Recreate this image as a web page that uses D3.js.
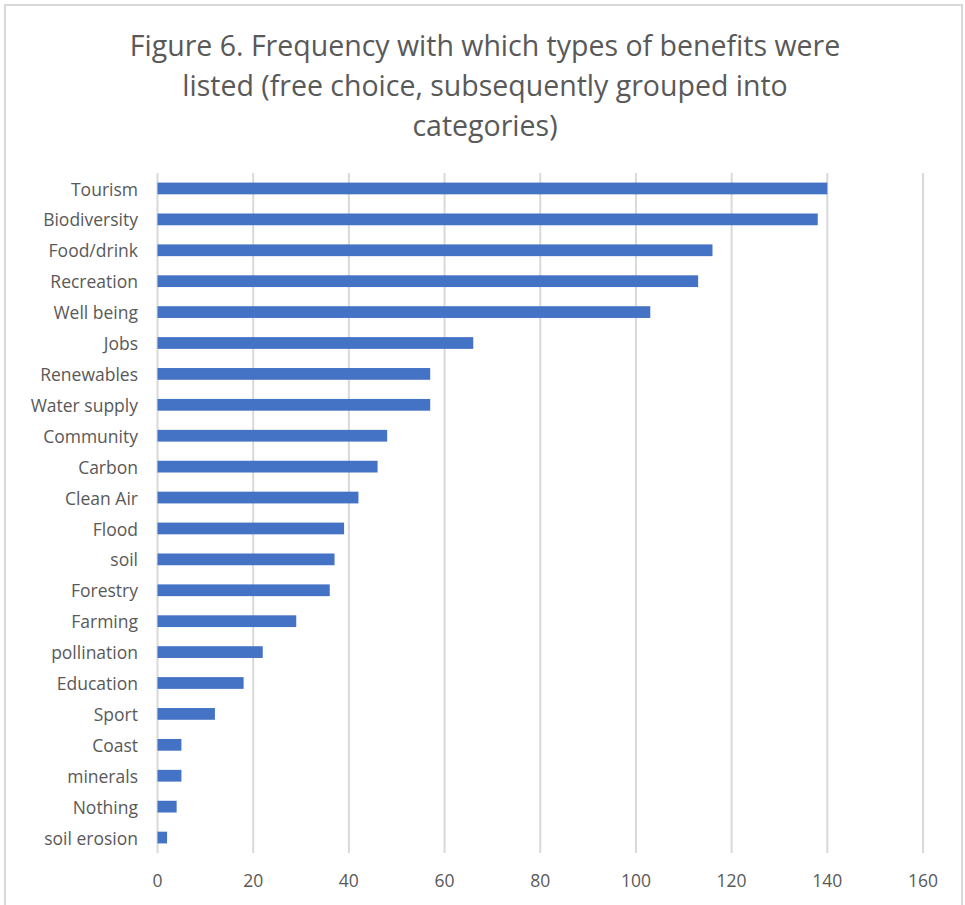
<!DOCTYPE html>
<html>
<head>
<meta charset="utf-8">
<script src="https://cdn.jsdelivr.net/npm/d3@7"></script>
<style>
  body { margin: 0; background: #fff; }
  text { font-family: "Open Sans", "Noto Sans", sans-serif; fill: #595959; }
</style>
</head>
<body>
<svg id="chart"></svg>
<script>
// values
var categories = ["Tourism", "Biodiversity", "Food/drink", "Recreation", "Well being", "Jobs",
  "Renewables", "Water supply", "Community", "Carbon", "Clean Air", "Flood", "soil",
  "Forestry", "Farming", "pollination", "Education", "Sport", "Coast", "minerals",
  "Nothing", "soil erosion"];
var counts = [140, 138, 116, 113, 103, 66, 57, 57, 48, 46, 42, 39, 37, 36, 29, 22, 18, 12, 5, 5, 4, 2];
var xTicks = [0, 20, 40, 60, 80, 100, 120, 140, 160];
var titleLines = ["Figure 6. Frequency with which types of benefits were",
  "listed (free choice, subsequently grouped into",
  "categories)"];

var width = 965;
var height = 905;
var margin = { top: 173, right: 42, bottom: 52, left: 157.5 };

var data = categories.map(function(c, i) {
  return { name: c, count: counts[i] };
});

var svg = d3.select("#chart")
  .attr("width", width)
  .attr("height", height);

// outer frame
svg.append("rect")
  .attr("x", 5).attr("y", 5)
  .attr("width", 957).attr("height", height + 10)
  .attr("fill", "#fff")
  .attr("stroke", "#d9d9d9")
  .attr("stroke-width", 2);

// title
svg.append("g").selectAll("text")
  .data(titleLines)
  .enter().append("text")
  .attr("x", 485)
  .attr("y", function(d, i) { return 46 + i * 40; })
  .attr("dy", "0.35em")
  .attr("text-anchor", "middle")
  .style("font-size", "28.5px")
  .text(function(d) { return d; });

var x = d3.scaleLinear()
  .domain([0, 160])
  .range([margin.left, width - margin.right]);

var p = 0.62;
var y = d3.scaleBand()
  .domain(categories)
  .range([margin.top, height - margin.bottom])
  .paddingInner(p)
  .paddingOuter(p / 2);

// gridlines
svg.append("g").selectAll("line")
  .data(xTicks)
  .enter().append("line")
  .attr("x1", function(d) { return x(d); })
  .attr("x2", function(d) { return x(d); })
  .attr("y1", margin.top)
  .attr("y2", height - margin.bottom)
  .attr("stroke", "#d9d9d9")
  .attr("stroke-width", 2);

// x tick labels
svg.append("g").selectAll("text")
  .data(xTicks)
  .enter().append("text")
  .attr("x", function(d) { return x(d); })
  .attr("y", 881)
  .attr("dy", "0.35em")
  .attr("text-anchor", "middle")
  .style("font-size", "17.5px")
  .text(function(d) { return d; });

// bars
svg.append("g").selectAll("rect")
  .data(data)
  .enter().append("rect")
  .attr("x", x(0))
  .attr("y", function(d) { return y(d.name); })
  .attr("width", function(d) { return x(d.count) - x(0); })
  .attr("height", y.bandwidth())
  .attr("fill", "#4472c4");

// category labels
svg.append("g").selectAll("text")
  .data(categories)
  .enter().append("text")
  .attr("x", 138)
  .attr("y", function(d) { return y(d) + y.bandwidth() / 2 + 1; })
  .attr("dy", "0.35em")
  .attr("text-anchor", "end")
  .style("font-size", "17.5px")
  .text(function(d) { return d; });
</script>
</body>
</html>
